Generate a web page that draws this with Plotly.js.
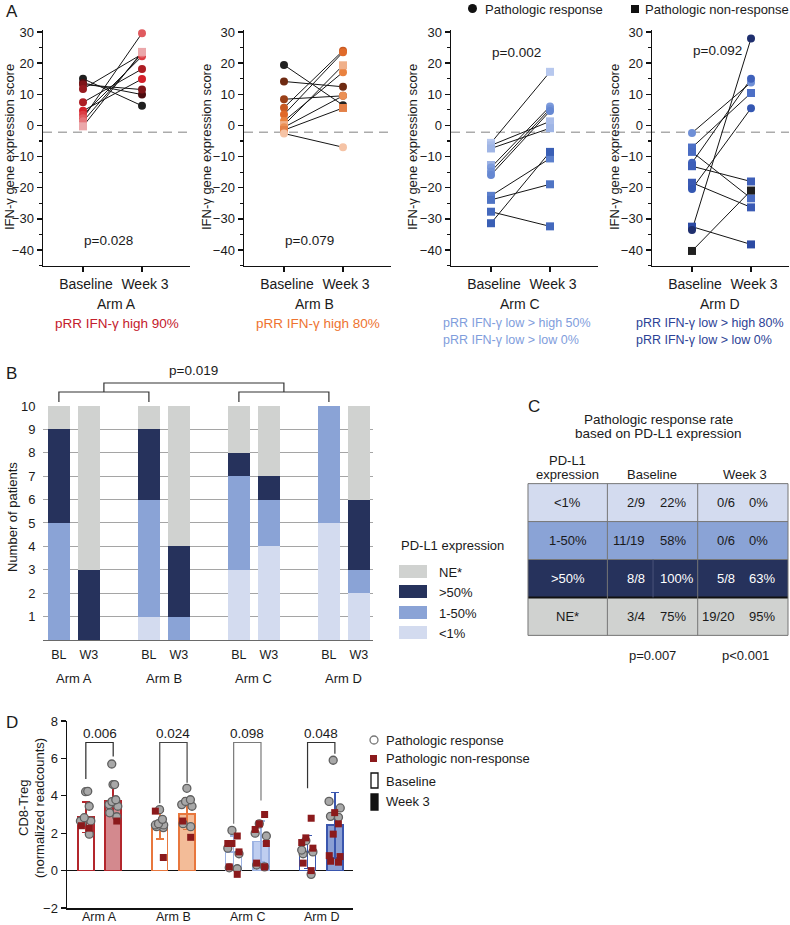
<!DOCTYPE html>
<html>
<head>
<meta charset="utf-8">
<script src="https://cdn.plot.ly/plotly-3.0.1.min.js"></script>
<style>
html,body{margin:0;padding:0;background:#fff;}
#chart{width:790px;height:925px;}
</style>
</head>
<body>
<div id="chart"></div>
<script>
// ===================== DATA =====================
// Panel A: IFN-gamma gene expression score, paired per patient
const timeLabels = ['Baseline', 'Week 3'];
const armLabels = ['Arm A', 'Arm B', 'Arm C', 'Arm D'];

const ifnA_baseline = [15.0, 13.6, 13.1, 11.7, 7.4, 4.7, 3.4, 2.3, 1.3, -0.3];
const ifnA_week3    = [6.3, 9.9, 11.5, 22.9, 18.1, 14.9, 22.2, 29.6, 23.1, 23.6];
const ifnA_response = [1, 1, 1, 1, 1, 1, 1, 1, 1, 0];

const ifnB_baseline = [19.4, 14.1, 8.4, 5.7, 3.5, 1.4, 0.1, -0.6, -1.5, -2.6];
const ifnB_week3    = [6.5, 12.4, 9.5, 24.0, 23.5, 17.1, 19.3, 9.5, 5.6, -7.0];
const ifnB_response = [1, 1, 1, 1, 1, 1, 0, 1, 0, 1];

const ifnC_baseline = [-5.6, -6.4, -7.4, -12.7, -13.5, -14.8, -15.9, -22.6, -23.9, -27.7, -31.4];
const ifnC_week3    = [17.2, 1.3, -0.9, null, 6.1, 5.3, 4.6, -10.6, -18.9, -32.4, -8.5];
const ifnC_response = [0, 0, 0, 0, 1, 1, 1, 0, 0, 0, 0];

const ifnD_baseline = [-2.4, -7.1, -8.5, -12.0, -13.1, -18.4, -19.3, -20.4, -32.5, -33.6, -40.3];
const ifnD_week3    = [13.8, 10.4, -23.4, 15.0, -18.0, -26.3, null, 5.5, -38.2, 27.9, -20.9];
const ifnD_response = [1, 0, 0, 1, 0, 0, 0, 1, 0, 1, 0];

const ifnThreshold = -2.2;
const ifnPvalues = ['p=0.028', 'p=0.079', 'p=0.002', 'p=0.092'];
const pRRlines = [
  ['pRR IFN-γ high 90%'],
  ['pRR IFN-γ high 80%'],
  ['pRR IFN-γ low &gt; high 50%', 'pRR IFN-γ low &gt; low 0%'],
  ['pRR IFN-γ low &gt; high 80%', 'pRR IFN-γ low &gt; low 0%']
];

// Panel B: PD-L1 expression, number of patients (stack bottom -> top)
const pdl1Bars   = ['BL', 'W3', 'BL', 'W3', 'BL', 'W3', 'BL', 'W3'];
const pdl1Levels = ['<1%', '1-50%', '>50%', 'NE*'];
const pdl1_lt1   = [0, 0, 1, 0, 3, 4, 5, 2];
const pdl1_1to50 = [5, 0, 5, 1, 4, 2, 5, 1];
const pdl1_gt50  = [4, 3, 3, 3, 1, 1, 0, 3];
const pdl1_NE    = [1, 7, 1, 6, 2, 3, 0, 4];
const pdl1Pvalue = 'p=0.019';

// Panel C: pathologic response rate by PD-L1 expression
const tableRows         = ['<1%', '1-50%', '>50%', 'NE*'];
const tableBaselineFrac = ['2/9', '11/19', '8/8', '3/4'];
const tableBaselinePct  = ['22%', '58%', '100%', '75%'];
const tableWeek3Frac    = ['0/6', '0/6', '5/8', '19/20'];
const tableWeek3Pct     = ['0%', '0%', '63%', '95%'];
const tablePvalues      = ['p=0.007', 'p&lt;0.001'];

// Panel D: CD8-Treg (normalized readcounts)
const cd8_BL_mean = [2.86, 2.45, 1.0, 1.0];
const cd8_BL_sd   = [0.82, 0.75, 0.85, 0.88];
const cd8_W3_mean = [3.73, 3.04, 1.55, 2.43];
const cd8_W3_sd   = [0.76, 0.83, 1.1, 1.75];
const cd8_pvalues = ['0.006', '0.024', '0.098', '0.048'];

const cd8A_BL_resp = [4.22, 4.24, 3.44, 2.83, 2.65, 2.65, 2.55, 1.95];
const cd8A_BL_non  = [2.27, 2.4];
const cd8A_W3_resp = [5.7, 4.6, 4.6, 3.79, 3.69, 3.44, 3.53, 3.09, 2.88];
const cd8A_W3_non  = [2.65];
const cd8B_BL_resp = [3.26, 2.74, 2.51, 2.44, 2.44, 2.35, 2.3];
const cd8B_BL_non  = [3.18, 0.7];
const cd8B_W3_resp = [4.4, 3.79, 3.7, 3.53, 3.44, 2.51, 2.35];
const cd8B_W3_non  = [2.65, 1.78];
const cd8C_BL_resp = [2.15, 1.2, 0.9, 0.15, 0.1];
const cd8C_BL_non  = [1.85, 1.45, 1.45, 1.0, 0.2, -0.2];
const cd8C_W3_resp = [2.5, 2.0, 1.85, 0.3, 0.2];
const cd8C_W3_non  = [3.0, 2.5, 2.2, 1.45, 0.4, 0.2];
const cd8D_BL_resp = [1.6, 1.1, 1.0, 0.9, -0.2];
const cd8D_BL_non  = [2.8, 1.75, 1.5, 1.2, 0.4, 0.0];
const cd8D_W3_resp = [5.9, 3.7, 3.35, 2.9, 2.85];
const cd8D_W3_non  = [3.1, 2.5, 1.95, 0.8, 0.75, 0.45, 0.5];

// ===================== STYLE / LAYOUT HELPERS =====================
const W = 790, H = 925;
const px = v => v / W;
const py = v => 1 - v / H;
const FONT = 'Liberation Sans, Arial, Helvetica, sans-serif';
const INK = '#1a1a1a';

const patientColors = [
  ['#1f1f1f', '#4d0d10', '#7e1519', '#961a1f', '#ad1d23', '#d4202a', '#dc3d44', '#e05a5f', '#e57479', '#eba7aa'],
  ['#222222', '#6e2a12', '#9a4018', '#c85a22', '#e06a2a', '#e9823f', '#f0b08a', '#eb9055', '#e38048', '#f5c3a5'],
  ['#b7c8ee', '#aabde9', '#9fb5e5', '#9cb2e4', '#7d9bdc', '#7191d6', '#6688d2', '#5b7fcc', '#4f74c4', '#4469bd', '#3a5fb5'],
  ['#6f8fd6', '#4d70c6', '#4a6cc2', '#3f61bb', '#3e5fb8', '#3a5ab4', '#3a5ab4', '#3457b2', '#2c4aa3', '#1f2f6e', '#202020']
];
const pRRcolors = ['#c4202c', '#ee7330', '#7f9ddc', '#2c4296'];
const pRRsize = [13.5, 13.5, 12.5, 12.5];
const pdl1Colors = ['#d3dbef', '#8aa3d6', '#26325c', '#d0d2d0'];
const cd8Line = ['#b3262c', '#e8773d', '#9cb2e2', '#3a56ae'];
const cd8Fill = ['#d3898e', '#f3bc98', '#bfcef0', '#8b9fd4'];

const traces = [];
const shapes = [];
const annotations = [];

function ann(text, x, y, o) {
  return Object.assign({text, x, y, xref: 'paper', yref: 'paper', showarrow: false,
    xanchor: 'center', yanchor: 'middle', font: {family: FONT, size: 13, color: INK}}, o || {});
}

// ===================== PANEL A =====================
const armData = [
  [ifnA_baseline, ifnA_week3, ifnA_response],
  [ifnB_baseline, ifnB_week3, ifnB_response],
  [ifnC_baseline, ifnC_week3, ifnC_response],
  [ifnD_baseline, ifnD_week3, ifnD_response]
];
const aAxisLeft = [43, 244, 451, 652];
const aAxisRight = [190, 391, 598, 789];
const aPx = 59; // px per category unit
armData.forEach((d, k) => {
  const [bl, w3, resp] = d;
  const x = [], y = [], c = [], s = [];
  bl.forEach((b, i) => {
    const sym = resp[i] ? 'circle' : 'square';
    const col = patientColors[k][i];
    x.push(0, 1, null); y.push(b, w3[i], null);
    c.push(col, col, col); s.push(sym, sym, sym);
  });
  const id = k === 0 ? '' : String(k + 1);
  traces.push({type: 'scatter', mode: 'lines+markers', x, y, xaxis: 'x' + id, yaxis: 'y' + id,
    line: {color: '#151515', width: 1}, connectgaps: false, cliponaxis: false,
    marker: {color: c, symbol: s, size: 8, line: {width: 0}}, hoverinfo: 'skip'});
});

// ===================== PANEL B =====================
const barPos = pdl1Bars.map((b, i) => Math.floor(i / 2) * 3 + (i % 2));
[pdl1_lt1, pdl1_1to50, pdl1_gt50, pdl1_NE].forEach((vals, i) => {
  traces.push({type: 'bar', x: barPos, y: vals, name: pdl1Levels[i], width: 0.73,
    marker: {color: pdl1Colors[i], line: {width: 0}}, xaxis: 'x5', yaxis: 'y5', hoverinfo: 'skip'});
});

// ===================== PANEL C (table as heatmap) =====================
traces.push({type: 'heatmap', x: [0, 80, 171, 262], y: [0, 1, 2, 3, 4],
  z: tableRows.map((r, i) => [i, i, i]), zmin: 0, zmax: 3, showscale: false,
  colorscale: [[0, pdl1Colors[0]], [1 / 3, pdl1Colors[1]], [2 / 3, pdl1Colors[2]], [1, pdl1Colors[3]]],
  xaxis: 'x7', yaxis: 'y7', hoverinfo: 'skip'});

// ===================== PANEL D =====================
const cd8Points = [
  [cd8A_BL_resp, cd8A_BL_non, cd8A_W3_resp, cd8A_W3_non],
  [cd8B_BL_resp, cd8B_BL_non, cd8B_W3_resp, cd8B_W3_non],
  [cd8C_BL_resp, cd8C_BL_non, cd8C_W3_resp, cd8C_W3_non],
  [cd8D_BL_resp, cd8D_BL_non, cd8D_W3_resp, cd8D_W3_non]
];
const dOff = 0.185;
armLabels.forEach((a, k) => {
  traces.push({type: 'bar', x: [k - dOff, k + dOff], y: [cd8_BL_mean[k], cd8_W3_mean[k]], width: 0.216,
    marker: {color: ['#ffffff', cd8Fill[k]], line: {color: cd8Line[k], width: 1.5}},
    error_y: {type: 'data', array: [cd8_BL_sd[k], cd8_W3_sd[k]], color: cd8Line[k], thickness: 1.5, width: 4},
    xaxis: 'x6', yaxis: 'y6', hoverinfo: 'skip'});
});
armLabels.forEach((a, k) => {
  const g = cd8Points[k];
  [[g[0], -dOff, 1], [g[1], -dOff, 0], [g[2], dOff, 1], [g[3], dOff, 0]].forEach(([vals, off, isResp]) => {
    traces.push({type: 'box', y: vals, x0: k + off, width: 0.22, boxpoints: 'all', jitter: 0.85, pointpos: 0,
      line: {width: 0, color: 'rgba(0,0,0,0)'}, fillcolor: 'rgba(0,0,0,0)', whiskerwidth: 0,
      marker: isResp ? {symbol: 'circle', size: 8, color: '#a8a8a8', line: {color: '#5f5f5f', width: 1.3}}
                     : {symbol: 'square', size: 7, color: '#8b1a1c', line: {width: 0}},
      xaxis: 'x6', yaxis: 'y6', hoverinfo: 'skip'});
  });
});

// ===================== LAYOUT =====================
const layout = {
  width: W, height: H, margin: {l: 0, r: 0, t: 0, b: 0},
  paper_bgcolor: '#ffffff', plot_bgcolor: 'rgba(0,0,0,0)',
  font: {family: FONT, size: 13, color: INK},
  showlegend: false, barmode: 'stack', boxmode: 'overlay',
  shapes, annotations
};

// panel A axes
for (let k = 0; k < 4; k++) {
  const id = k === 0 ? '' : String(k + 1);
  const left = aAxisLeft[k], right = aAxisRight[k];
  layout['xaxis' + id] = {domain: [px(left), px(right)], range: [-40 / aPx, (right - left - 40) / aPx],
    tickvals: [0, 1], ticktext: timeLabels, ticks: 'outside', ticklen: 5, tickwidth: 1.3, tickcolor: '#111',
    showline: true, linecolor: '#111', linewidth: 1.5, showgrid: false, zeroline: false,
    tickfont: {size: 14, color: INK}, ticklabelshift: 3, anchor: 'y' + id, fixedrange: true};
  layout['yaxis' + id] = {domain: [py(265.6), py(30.4)], range: [-45, 30.5],
    tickvals: [-40, -30, -20, -10, 0, 10, 20, 30], ticks: 'outside', ticklen: 5, tickwidth: 1.3, tickcolor: '#111',
    minor: {dtick: 5, tick0: 0, ticks: 'outside', ticklen: 3, tickwidth: 1.2, tickcolor: '#111'},
    showline: true, linecolor: '#111', linewidth: 1.5, showgrid: false, zeroline: false,
    tickfont: {size: 13, color: INK}, anchor: 'x' + id, fixedrange: true};
}
// threshold dashed lines
[[43, 190], [244, 391], [451, 789]].forEach(([a, b]) => {
  shapes.push({type: 'line', xref: 'paper', yref: 'y', x0: px(a), x1: px(b), y0: ifnThreshold, y1: ifnThreshold,
    line: {color: '#ababab', width: 1.5, dash: '9px,6px'}, layer: 'below'});
});

// panel B axes
layout.xaxis5 = {domain: [px(43), px(373)], range: [-0.53, 10.47], tickvals: barPos, ticktext: pdl1Bars,
  ticks: 'outside', ticklen: 3, tickcolor: 'rgba(0,0,0,0)', showline: true, linecolor: '#6a6a6a', linewidth: 1.3,
  showgrid: false, zeroline: false, tickfont: {size: 12.5, color: INK}, anchor: 'y5', fixedrange: true};
layout.yaxis5 = {domain: [py(640), py(405.5)], range: [0, 10.02], tickvals: [1, 2, 3, 4, 5, 6, 7, 8, 9, 10],
  ticks: 'outside', ticklen: 4, tickcolor: 'rgba(0,0,0,0)', showline: false, showgrid: true,
  gridcolor: '#a5a5a5', gridwidth: 1, zeroline: false, tickfont: {size: 13, color: INK}, anchor: 'x5', fixedrange: true};

// panel C axes
layout.xaxis7 = {domain: [px(527), px(789)], range: [-1, 263], visible: false, anchor: 'y7', fixedrange: true};
layout.yaxis7 = {domain: [py(636.5), py(482.5)], range: [4.03, -0.03], visible: false, anchor: 'x7', fixedrange: true};

// panel D axes (arm labels drawn as annotations to stay inside the picture)
layout.xaxis6 = {domain: [px(67), px(353)], range: [-0.44, 3.43], tickvals: [0, 1, 2, 3], showticklabels: false,
  ticks: '', showline: true, linecolor: '#111', linewidth: 1.5,
  showgrid: false, zeroline: false, anchor: 'y6', fixedrange: true};
layout.yaxis6 = {domain: [py(908), py(721)], range: [-2, 8], tickvals: [-2, 0, 2, 4, 6, 8],
  ticks: 'outside', ticklen: 5, tickwidth: 1.3, tickcolor: '#111', showline: true, linecolor: '#111', linewidth: 1.5,
  showgrid: false, zeroline: true, zerolinecolor: '#111', zerolinewidth: 1.5,
  tickfont: {size: 13, color: INK}, anchor: 'x6', fixedrange: true};

// ===================== ANNOTATIONS & SHAPES =====================
// Panel letters
annotations.push(ann('A', px(4), py(12), {xanchor: 'left', font: {family: FONT, size: 17, color: INK}}));
annotations.push(ann('B', px(4), py(373), {xanchor: 'left', font: {family: FONT, size: 17, color: INK}}));
annotations.push(ann('C', px(526), py(407), {xanchor: 'left', font: {family: FONT, size: 17, color: INK}}));
annotations.push(ann('D', px(4), py(722), {xanchor: 'left', font: {family: FONT, size: 17, color: INK}}));

// Panel A: legend on top
shapes.push({type: 'circle', xref: 'paper', yref: 'paper', x0: px(468), x1: px(477), y0: py(13), y1: py(4),
  fillcolor: '#111', line: {width: 0}});
annotations.push(ann('Pathologic response', px(483), py(9), {xanchor: 'left'}));
shapes.push({type: 'rect', xref: 'paper', yref: 'paper', x0: px(631), x1: px(639), y0: py(13), y1: py(5),
  fillcolor: '#111', line: {width: 0}});
annotations.push(ann('Pathologic non-response', px(643), py(9), {xanchor: 'left'}));

const yTitleX = [10, 207, 413, 615];
const armLabelX = [116, 314, 520, 720];
const pRRleft = [53, 254, 441, 634];
const pYval = [-36.8, -36.8, 23.3, 23.9];
for (let k = 0; k < 4; k++) {
  const id = k === 0 ? '' : String(k + 1);
  annotations.push(ann('IFN-γ gene expression score', px(yTitleX[k]), py(147), {textangle: -90}));
  annotations.push(ann(armLabels[k], px(armLabelX[k]), py(304), {font: {family: FONT, size: 14, color: INK}}));
  pRRlines[k].forEach((t, j) => {
    annotations.push(ann(t, px(pRRleft[k]), py(323 + 17 * j), {xanchor: 'left', font: {family: FONT, size: pRRsize[k], color: pRRcolors[k]}}));
  });
  annotations.push(ann(ifnPvalues[k], 0.43, pYval[k], {xref: 'x' + id, yref: 'y' + id, font: {family: FONT, size: 13.5, color: INK}}));
}

// Panel B: y title, group labels, brackets, legend
annotations.push(ann('Number of patients', px(12), py(517), {textangle: -90}));
armLabels.forEach((a, k) => {
  annotations.push(ann(a, k * 3 + 0.5, py(678), {xref: 'x5'}));
});
shapes.push({type: 'path', xref: 'x5', yref: 'paper', line: {color: '#333', width: 1.2},
  path: `M1.5,${py(392)} L1.5,${py(383)} L7.5,${py(383)} L7.5,${py(392)}`});
shapes.push({type: 'path', xref: 'x5', yref: 'paper', line: {color: '#333', width: 1.2},
  path: `M0,${py(402)} L0,${py(392)} L3,${py(392)} L3,${py(402)}`});
shapes.push({type: 'path', xref: 'x5', yref: 'paper', line: {color: '#333', width: 1.2},
  path: `M6,${py(402)} L6,${py(392)} L9,${py(392)} L9,${py(402)}`});
annotations.push(ann(pdl1Pvalue, 4.5, py(370), {xref: 'x5', font: {family: FONT, size: 13.5, color: INK}}));

annotations.push(ann('PD-L1 expression', px(399), py(545), {xanchor: 'left'}));
const legTop = [565, 585, 606, 626];
[3, 2, 1, 0].forEach((lvl, j) => {
  shapes.push({type: 'rect', xref: 'paper', yref: 'paper', x0: px(399), x1: px(427),
    y0: py(legTop[j] + 13), y1: py(legTop[j]), fillcolor: pdl1Colors[lvl], line: {width: 0}});
  annotations.push(ann(pdl1Levels[lvl].replace('<', '&lt;').replace('>', '&gt;'), px(437), py(legTop[j] + 7), {xanchor: 'left'}));
});

// Panel C: title, headers, borders, cell texts, p-values
annotations.push(ann('Pathologic response rate', px(658), py(419), {font: {family: FONT, size: 13.5, color: INK}}));
annotations.push(ann('based on PD-L1 expression', px(658), py(433), {font: {family: FONT, size: 13.5, color: INK}}));
annotations.push(ann('PD-L1', px(567), py(460)));
annotations.push(ann('expression', px(567), py(474)));
annotations.push(ann('Baseline', px(652), py(474)));
annotations.push(ann('Week 3', px(745), py(474)));
[0, 1, 2, 3, 4].forEach(r => {
  shapes.push({type: 'line', xref: 'x7', yref: 'y7', x0: 0, x1: 262, y0: r, y1: r,
    line: {color: r === 3 ? '#111' : '#767676', width: r === 3 ? 2 : 1}});
});
[0, 80, 171, 262].forEach(c => {
  shapes.push({type: 'line', xref: 'x7', yref: 'y7', x0: c, x1: c, y0: 0, y1: 4, line: {color: '#767676', width: 1}});
});
shapes.push({type: 'line', xref: 'x7', yref: 'y7', x0: 126, x1: 126, y0: 2, y1: 3, line: {color: '#4a5378', width: 1}});
tableRows.forEach((r, i) => {
  const col = i === 2 ? '#ffffff' : INK;
  const f = {family: FONT, size: 13, color: col};
  const o = {xref: 'x7', yref: 'y7', font: f};
  annotations.push(ann(r.replace('<', '&lt;').replace('>', '&gt;'), 40, i + 0.5, o));
  annotations.push(ann(tableBaselineFrac[i], 120, i + 0.5, Object.assign({}, o, {xanchor: 'right'})));
  annotations.push(ann(tableBaselinePct[i], 131, i + 0.5, Object.assign({}, o, {xanchor: 'left'})));
  annotations.push(ann(tableWeek3Frac[i], 211, i + 0.5, Object.assign({}, o, {xanchor: 'right'})));
  annotations.push(ann(tableWeek3Pct[i], 221, i + 0.5, Object.assign({}, o, {xanchor: 'left'})));
});
annotations.push(ann(tablePvalues[0], px(652), py(655)));
annotations.push(ann(tablePvalues[1], px(745), py(655)));

// Panel D: y title, x labels, brackets, p-values, legend
annotations.push(ann('CD8-Treg', px(23), py(808), {textangle: -90}));
annotations.push(ann('(normalized readcounts)', px(39), py(808), {textangle: -90}));
armLabels.forEach((a, k) => {
  annotations.push(ann(a, k, py(925), {xref: 'x6', yanchor: 'bottom', borderpad: 0, font: {family: FONT, size: 12.5, color: INK}}));
});
const brTop = 6.85;
const brLegs = [[4.9, 6.1], [3.6, 4.7], [2.5, 3.75], [4.4, 6.25]];
const brCol = ['#2a2a2a', '#444444', '#7a7a7a', '#333333'];
armLabels.forEach((a, k) => {
  shapes.push({type: 'path', xref: 'x6', yref: 'y6', line: {color: brCol[k], width: 1.2},
    path: `M${k - dOff},${brLegs[k][0]} L${k - dOff},${brTop} L${k + dOff},${brTop} L${k + dOff},${brLegs[k][1]}`});
  annotations.push(ann(cd8_pvalues[k], k, 7.35, {xref: 'x6', yref: 'y6', font: {family: FONT, size: 13.5, color: INK}}));
});
shapes.push({type: 'circle', xref: 'paper', yref: 'paper', x0: px(370), x1: px(378), y0: py(744), y1: py(736),
  fillcolor: '#ffffff', line: {color: '#777', width: 1.3}});
annotations.push(ann('Pathologic response', px(384), py(740), {xanchor: 'left'}));
shapes.push({type: 'rect', xref: 'paper', yref: 'paper', x0: px(370), x1: px(377), y0: py(762), y1: py(755),
  fillcolor: '#8b1a1c', line: {width: 0}});
annotations.push(ann('Pathologic non-response', px(384), py(758), {xanchor: 'left'}));
shapes.push({type: 'rect', xref: 'paper', yref: 'paper', x0: px(371), x1: px(378), y0: py(788), y1: py(773),
  fillcolor: '#ffffff', line: {color: '#111', width: 1.3}});
annotations.push(ann('Baseline', px(384), py(781), {xanchor: 'left'}));
shapes.push({type: 'rect', xref: 'paper', yref: 'paper', x0: px(371), x1: px(378), y0: py(810), y1: py(794),
  fillcolor: '#111', line: {color: '#111', width: 1.3}});
annotations.push(ann('Week 3', px(384), py(801), {xanchor: 'left'}));

Plotly.newPlot('chart', traces, layout, {staticPlot: true, displayModeBar: false});
</script>
</body>
</html>
